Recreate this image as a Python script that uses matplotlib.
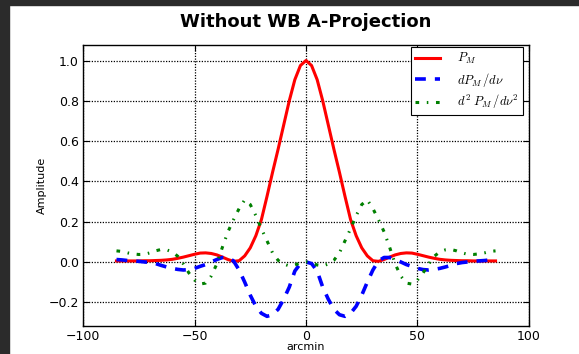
import numpy as np
import matplotlib
matplotlib.use("Agg")
import matplotlib.pyplot as plt
from matplotlib.patches import Rectangle

plt.rcParams["mathtext.fontset"] = "cm"

# abscisse en arcmin
arcmin = [-85, -82.5, -80, -77.5, -75, -72.5, -70, -67.5, -65, -62.5, -60, -57.5, -55, -52.5,
          -50, -47.5, -45, -42.5, -40, -37.5, -35, -32.5, -30, -27.5, -25, -22.5, -20, -17.5,
          -15, -12.5, -10, -7.5, -5, -2.5, 0, 2.5, 5, 7.5, 10, 12.5, 15, 17.5, 20, 22.5, 25,
          27.5, 30, 32.5, 35, 37.5, 40, 42.5, 45, 47.5, 50, 52.5, 55, 57.5, 60, 62.5, 65, 67.5,
          70, 72.5, 75, 77.5, 80, 82.5, 85]

# P_M
p_m = [0.005, 0.005, 0.005, 0.005, 0.005, 0.006, 0.006, 0.007, 0.008, 0.010, 0.013, 0.018, 0.024, 0.031,
       0.038, 0.044, 0.045, 0.042, 0.035, 0.024, 0.012, 0.003, 0.006, 0.03, 0.07, 0.13, 0.21, 0.325,
       0.445, 0.56, 0.68, 0.80, 0.905, 0.975, 1.0, 0.975, 0.905, 0.80, 0.68, 0.56, 0.445, 0.325, 0.21, 0.13, 0.07,
       0.03, 0.006, 0.003, 0.012, 0.024, 0.035, 0.042, 0.045, 0.044, 0.038, 0.031, 0.024, 0.018, 0.013, 0.010,
       0.008, 0.007, 0.006, 0.006, 0.005, 0.005, 0.005, 0.005, 0.005]

# dP_M / dnu
dp_m = [0.012, 0.01, 0.007, 0.005, 0.003, 0.0, -0.003, -0.008, -0.017, -0.025, -0.032, -0.037, -0.04, -0.038,
        -0.032, -0.022, -0.013, 0.0, 0.012, 0.022, 0.022, 0.005, -0.04, -0.10, -0.165, -0.22, -0.255, -0.27,
        -0.262, -0.235, -0.185, -0.125, -0.045, -0.008, 0.0, -0.008, -0.045, -0.125, -0.185, -0.235, -0.262,
        -0.27, -0.255, -0.22, -0.165, -0.10, -0.04, 0.005, 0.022, 0.022, 0.012, 0.0, -0.013, -0.022, -0.032,
        -0.038, -0.04, -0.037, -0.032, -0.025, -0.017, -0.008, -0.003, 0.0, 0.003, 0.005, 0.007, 0.01, 0.012]

# d2 P_M / dnu2
d2p_m = [0.055, 0.052, 0.045, 0.04, 0.037, 0.038, 0.045, 0.055, 0.062, 0.06, 0.05, 0.028, -0.01, -0.055,
         -0.09, -0.11, -0.105, -0.07, -0.01, 0.073, 0.15, 0.21, 0.265, 0.308, 0.285, 0.23, 0.165, 0.105,
         0.045, 0.008, -0.01, -0.02, -0.015, -0.005, 0.0, -0.005, -0.015, -0.02, -0.01, 0.008, 0.045, 0.105,
         0.165, 0.23, 0.285, 0.308, 0.265, 0.21, 0.15, 0.073, -0.01, -0.07, -0.105, -0.11, -0.09, -0.055,
         -0.01, 0.028, 0.05, 0.06, 0.062, 0.055, 0.045, 0.038, 0.037, 0.04, 0.045, 0.052, 0.055]

x_ticks = [-100, -50, 0, 50, 100]
y_ticks = [-0.2, 0.0, 0.2, 0.4, 0.6, 0.8, 1.0]

fig = plt.figure(figsize=(5.79, 3.54), dpi=100)
ax = fig.add_axes([0.1434, 0.0791, 0.7702, 0.7938])

ax.plot(arcmin, p_m, color="red", lw=2.2, label=r"$P_M$")
ax.plot(arcmin, dp_m, color="blue", lw=2.6, dashes=(3, 2.5), label=r"$dP_M\,/d\nu$")
ax.plot(arcmin, d2p_m, color="green", lw=2.2, dashes=(1.2, 2.5, 0.5, 2.5), label=r"$d^2\ P_M\,/d\nu^2$")

ax.set_xlim(-100, 100)
ax.set_ylim(-0.318, 1.077)
ax.set_xticks(x_ticks)
ax.set_yticks(y_ticks)
ax.grid(True, color="black", linestyle=(0, (1, 1.2)), linewidth=0.9)
ax.tick_params(direction="in", top=True, right=True, labelsize=9, length=4, pad=3)
for s in ax.spines.values():
    s.set_linewidth(1.0)

ax.set_xlabel("arcmin", fontsize=8, labelpad=-1)
ax.set_ylabel("Amplitude", fontsize=8, labelpad=1)
ax.set_title("Without WB A-Projection", fontsize=13, fontweight="bold", pad=13)

leg = ax.legend(loc="upper right", bbox_to_anchor=(0.986, 0.994), borderaxespad=0,
                fontsize=9, fancybox=False, framealpha=1, edgecolor="black",
                handlelength=2.0, handletextpad=1.3, labelspacing=0.35, borderpad=0.35)
leg.get_frame().set_linewidth(0.8)

# bord sombre de la capture
fig.add_artist(Rectangle((0, 0), 9 / 579, 1, transform=fig.transFigure, color="#2b2b2b", zorder=10))
fig.add_artist(Rectangle((0, 1 - 5 / 354), 1, 5 / 354, transform=fig.transFigure, color="#2b2b2b", zorder=10))

fig.savefig("out.png", dpi=100)
